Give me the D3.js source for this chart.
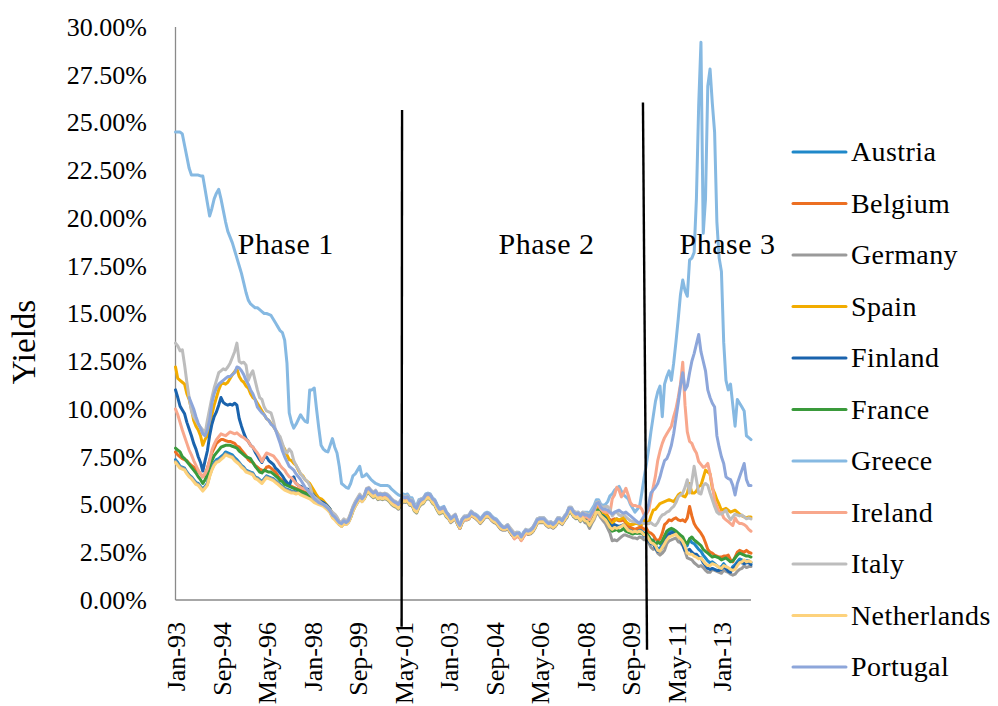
<!DOCTYPE html>
<html>
<head>
<meta charset="utf-8">
<script src="https://cdn.jsdelivr.net/npm/d3@7"></script>
<style>
  html, body { margin: 0; padding: 0; background: #ffffff; }
  svg { display: block; }
  text { font-family: "Liberation Serif", "DejaVu Serif", serif; fill: #000; }
</style>
</head>
<body>
<svg id="chart" width="998" height="706"></svg>
<script>
// ---------------- DATA (monthly yields, %, Jan-93 .. Feb-14) ----------------
const startMonth = new Date(1993, 0, 1);
const monthCount = 254;
const tickLabels = ["Jan-93","Sep-94","May-96","Jan-98","Sep-99","May-01","Jan-03","Sep-04","May-06","Jan-08","Sep-09","May-11","Jan-13"];
const yTickValues = [0, 2.5, 5, 7.5, 10, 12.5, 15, 17.5, 20, 22.5, 25, 27.5, 30];
const countries = ["Austria","Belgium","Germany","Spain","Finland","France","Greece","Ireland","Italy","Netherlands","Portugal"];
const colors = ["#1f88c9","#ec6f22","#9a9a9a","#f2ac00","#1a63ad","#3a9a3b","#86b9e2","#f8a78c","#bdbdbd","#fdd27c","#8da6da"];
const phaseLabels = ["Phase 1","Phase 2","Phase 3"];
const phaseLabelPos = [{m: 48.5, v: 18.1}, {m: 163.1, v: 18.1}, {m: 242.7, v: 18.1}];
const phaseLines = [{m1: 99.6, v1: 25.65, m2: 99.4, v2: -1.4}, {m1: 205.5, v1: 26.05, m2: 207.3, v2: -2.6}];

const austria = [
7.35,7.2,7.0,6.95,6.9,6.7,6.55,6.45,6.3,6.15,6.1,5.95,
5.8,5.95,6.1,6.6,6.95,7.2,7.35,7.4,7.5,7.6,7.75,7.7,
7.65,7.6,7.45,7.35,7.2,7.05,6.95,6.8,6.75,6.7,6.65,6.45,
6.4,6.3,6.2,6.35,6.5,6.45,6.4,6.35,6.25,6.15,6.05,5.95,
5.85,5.8,5.75,5.7,5.7,5.65,5.7,5.6,5.55,5.5,5.45,5.4,
5.3,5.2,5.15,5.1,5.05,5.0,4.9,4.8,4.65,4.45,4.35,4.2,
4.0,3.95,4.1,4.05,4.15,4.4,4.75,5.0,5.2,5.4,5.25,5.4,
5.7,5.75,5.6,5.5,5.6,5.4,5.45,5.4,5.45,5.4,5.3,5.15,
5.05,5.0,4.9,5.1,5.3,5.25,5.3,5.1,5.1,4.8,4.7,5.0,
5.15,5.2,5.4,5.45,5.4,5.2,5.1,4.85,4.65,4.7,4.75,4.5,
4.4,4.2,4.3,4.4,4.05,3.85,4.15,4.3,4.3,4.35,4.55,4.45,
4.35,4.25,4.1,4.25,4.4,4.45,4.4,4.25,4.15,4.1,3.95,3.8,
3.75,3.75,3.85,3.65,3.45,3.3,3.4,3.4,3.2,3.4,3.6,3.5,
3.55,3.65,3.85,4.1,4.15,4.15,4.15,4.0,3.9,3.95,3.85,3.95,
4.15,4.15,4.05,4.25,4.4,4.7,4.65,4.45,4.35,4.4,4.2,4.35,
4.25,4.2,4.0,4.25,4.45,4.75,4.8,4.55,4.45,4.4,4.3,4.2,
4.1,4.2,4.25,4.15,4.2,4.3,4.05,3.85,3.75,3.65,3.65,3.6,
3.75,3.6,3.5,3.5,3.2,3.1,3.15,2.85,2.7,2.7,2.95,3.3,
3.5,3.6,3.6,3.65,3.6,3.45,3.3,3.0,2.75,2.85,3.2,3.0,
2.95,2.8,2.65,2.55,2.35,2.2,2.05,1.95,2.0,1.9,1.8,1.7,
1.75,1.9,1.75,1.55,1.55,1.75,1.85,2.0,2.15,2.1,2.0,2.05,
2.05,1.95];

const belgium = [
7.75,7.6,7.5,7.4,7.35,7.3,7.15,7.05,6.95,6.85,6.75,6.6,
6.45,6.6,6.9,7.3,7.7,7.95,8.2,8.3,8.4,8.4,8.35,8.3,
8.3,8.25,8.2,8.05,8.0,7.85,7.7,7.55,7.35,7.25,7.2,7.05,
6.95,6.85,6.8,6.75,6.95,7.0,6.9,6.8,6.7,6.5,6.35,6.25,
6.15,6.05,6.0,5.95,5.9,5.85,5.8,5.75,5.7,5.65,5.6,5.5,
5.35,5.25,5.15,5.1,5.05,5.0,4.9,4.8,4.65,4.45,4.35,4.2,
4.0,4.0,4.15,4.05,4.15,4.45,4.8,5.05,5.25,5.45,5.3,5.45,
5.75,5.8,5.65,5.55,5.65,5.45,5.5,5.45,5.5,5.45,5.35,5.2,
5.1,5.05,4.95,5.15,5.35,5.3,5.35,5.15,5.15,4.85,4.75,5.05,
5.2,5.25,5.45,5.5,5.45,5.25,5.15,4.9,4.7,4.75,4.8,4.55,
4.45,4.25,4.35,4.45,4.1,3.9,4.2,4.35,4.35,4.4,4.6,4.5,
4.4,4.3,4.15,4.3,4.45,4.5,4.45,4.3,4.2,4.15,4.0,3.85,
3.8,3.8,3.9,3.7,3.5,3.35,3.45,3.45,3.25,3.45,3.65,3.55,
3.6,3.7,3.9,4.15,4.2,4.2,4.2,4.05,3.95,4.0,3.9,4.0,
4.2,4.2,4.1,4.3,4.45,4.75,4.7,4.5,4.4,4.45,4.3,4.45,
4.35,4.3,4.15,4.4,4.6,4.9,4.95,4.7,4.6,4.55,4.4,4.15,
4.2,4.25,4.2,4.15,4.15,4.2,4.0,3.85,3.8,3.75,3.7,3.75,
3.8,3.8,3.7,3.75,3.55,3.5,3.4,3.2,3.1,3.2,3.5,3.95,
4.05,4.2,4.15,4.25,4.3,4.2,4.15,4.2,4.1,4.3,4.9,4.4,
4.0,3.8,3.65,3.5,3.3,3.0,2.65,2.5,2.45,2.35,2.3,2.25,
2.25,2.3,2.3,2.35,2.1,2.0,2.25,2.5,2.6,2.55,2.5,2.6,
2.5,2.45];

const germany = [
7.25,7.1,6.95,6.9,6.85,6.65,6.5,6.4,6.25,6.1,6.05,5.9,
5.75,5.9,6.05,6.5,6.85,7.1,7.25,7.3,7.4,7.5,7.65,7.6,
7.55,7.5,7.35,7.25,7.15,7.0,6.9,6.75,6.7,6.65,6.6,6.4,
6.35,6.25,6.15,6.3,6.45,6.4,6.35,6.3,6.2,6.1,6.0,5.9,
5.8,5.75,5.7,5.65,5.65,5.6,5.65,5.55,5.5,5.45,5.4,5.35,
5.25,5.15,5.1,5.05,5.0,4.95,4.85,4.75,4.6,4.35,4.25,4.1,
3.95,3.85,4.0,3.95,4.05,4.3,4.65,4.9,5.1,5.3,5.15,5.3,
5.55,5.6,5.45,5.35,5.45,5.25,5.3,5.25,5.3,5.25,5.15,5.0,
4.9,4.85,4.75,4.95,5.15,5.1,5.15,4.95,4.95,4.65,4.55,4.85,
5.0,5.05,5.25,5.3,5.25,5.05,4.95,4.7,4.5,4.55,4.6,4.35,
4.25,4.05,4.15,4.25,3.95,3.75,4.05,4.2,4.2,4.25,4.45,4.35,
4.25,4.15,4.0,4.15,4.3,4.35,4.3,4.15,4.05,4.0,3.85,3.7,
3.65,3.65,3.75,3.55,3.4,3.25,3.35,3.35,3.15,3.35,3.5,3.45,
3.45,3.55,3.75,4.0,4.05,4.05,4.05,3.9,3.8,3.85,3.75,3.85,
4.05,4.05,3.95,4.15,4.3,4.6,4.55,4.35,4.25,4.3,4.1,4.25,
4.05,4.0,3.75,4.0,4.2,4.5,4.5,4.3,4.15,4.0,3.75,3.5,
3.1,3.15,3.1,3.2,3.3,3.4,3.4,3.35,3.3,3.25,3.25,3.2,
3.3,3.25,3.15,3.15,3.0,2.75,2.65,2.7,2.45,2.35,2.45,2.6,
2.95,3.1,3.15,3.2,3.25,3.05,3.0,2.85,2.55,2.2,2.15,2.1,
1.95,1.85,1.75,1.8,1.7,1.55,1.45,1.45,1.6,1.55,1.5,1.45,
1.4,1.55,1.5,1.45,1.35,1.3,1.35,1.5,1.6,1.65,1.8,1.7,
1.75,1.75];

const spain = [
12.2,11.6,11.5,11.4,11.3,10.8,10.5,10.0,9.4,9.1,8.9,8.6,
8.1,8.4,8.6,9.2,9.7,10.2,10.6,11.0,11.3,11.35,11.3,11.4,
11.6,11.8,11.95,12.1,11.7,11.5,11.4,11.2,11.1,10.8,10.6,10.5,
10.3,10.1,9.9,9.7,9.5,9.4,9.25,9.1,8.9,8.7,8.4,8.1,
7.9,7.6,7.35,7.3,7.15,7.05,6.8,6.6,6.5,6.3,6.2,6.1,
5.9,5.7,5.5,5.35,5.3,5.2,5.05,4.9,4.75,4.55,4.45,4.3,
4.1,4.05,4.2,4.1,4.2,4.5,4.85,5.1,5.3,5.5,5.3,5.45,
5.7,5.75,5.6,5.5,5.6,5.4,5.45,5.4,5.45,5.4,5.3,5.15,
5.05,5.0,4.9,5.1,5.3,5.25,5.3,5.1,5.1,4.8,4.7,5.0,
5.15,5.2,5.4,5.45,5.4,5.2,5.1,4.85,4.65,4.7,4.75,4.5,
4.4,4.15,4.25,4.35,4.05,3.8,4.1,4.25,4.25,4.3,4.5,4.4,
4.3,4.2,4.05,4.2,4.35,4.4,4.35,4.2,4.1,4.05,3.9,3.75,
3.7,3.7,3.8,3.6,3.4,3.25,3.35,3.35,3.15,3.35,3.55,3.45,
3.5,3.6,3.8,4.05,4.1,4.1,4.1,3.95,3.85,3.9,3.8,3.9,
4.1,4.1,4.0,4.2,4.4,4.7,4.65,4.45,4.35,4.4,4.2,4.35,
4.25,4.25,4.05,4.3,4.5,4.8,4.85,4.6,4.55,4.5,4.35,4.05,
4.0,4.15,4.25,4.2,4.25,4.35,4.1,4.0,3.95,3.95,4.0,4.0,
3.95,3.95,4.2,4.1,4.0,4.4,4.7,4.75,4.9,5.05,5.1,5.15,
5.2,5.25,5.2,5.15,5.3,5.5,5.6,5.45,5.4,5.6,6.1,5.6,
5.6,5.7,5.95,6.0,6.4,6.8,6.7,6.6,5.85,5.6,5.25,5.0,
4.7,4.75,4.8,4.7,4.6,4.65,4.7,4.6,4.5,4.4,4.35,4.3,
4.35,4.35];

const finland = [
11.0,10.6,10.15,9.95,9.75,9.3,8.95,8.6,8.2,7.9,7.5,7.2,
6.75,7.3,7.8,8.6,9.2,9.6,9.85,10.2,10.6,10.35,10.25,10.2,
10.25,10.2,10.3,10.2,9.5,9.1,8.75,8.45,8.3,8.1,8.0,7.75,
7.55,7.35,7.2,7.45,7.5,7.3,7.2,7.1,6.9,6.8,6.65,6.5,
6.3,6.15,6.0,6.3,6.45,6.1,6.0,5.95,5.9,5.85,5.8,5.75,
5.6,5.45,5.3,5.2,5.15,5.1,5.0,4.9,4.75,4.5,4.4,4.25,
4.05,4.0,4.15,4.05,4.15,4.45,4.8,5.05,5.25,5.45,5.25,5.4,
5.65,5.7,5.55,5.45,5.55,5.35,5.4,5.35,5.4,5.35,5.25,5.1,
5.0,4.95,4.85,5.05,5.25,5.2,5.25,5.05,5.05,4.75,4.65,4.95,
5.1,5.15,5.35,5.4,5.35,5.15,5.05,4.8,4.6,4.65,4.7,4.45,
4.35,4.15,4.25,4.35,4.0,3.8,4.1,4.25,4.25,4.3,4.5,4.4,
4.3,4.2,4.05,4.2,4.35,4.4,4.35,4.2,4.1,4.05,3.9,3.75,
3.7,3.7,3.8,3.6,3.4,3.25,3.35,3.35,3.15,3.35,3.55,3.45,
3.5,3.6,3.8,4.05,4.1,4.1,4.1,3.95,3.85,3.9,3.8,3.9,
4.1,4.1,4.0,4.2,4.35,4.65,4.6,4.4,4.3,4.35,4.15,4.3,
4.2,4.15,3.95,4.2,4.35,4.7,4.7,4.45,4.4,4.3,4.1,3.95,
3.85,3.95,3.9,3.85,3.9,3.95,3.8,3.65,3.6,3.55,3.55,3.5,
3.6,3.5,3.35,3.35,3.1,2.95,2.95,2.7,2.55,2.55,2.75,3.05,
3.3,3.45,3.5,3.55,3.5,3.35,3.2,2.9,2.6,2.6,2.65,2.5,
2.4,2.4,2.25,2.2,1.95,1.8,1.65,1.6,1.65,1.6,1.55,1.55,
1.6,1.75,1.65,1.5,1.45,1.65,1.75,1.9,2.0,1.95,1.9,1.95,
1.95,1.85];

const france = [
7.95,7.85,7.75,7.5,7.4,7.25,7.1,6.95,6.8,6.65,6.45,6.3,
6.1,6.3,6.55,7.0,7.3,7.55,7.7,7.85,8.0,8.05,8.1,8.1,
8.1,8.05,8.0,7.95,7.8,7.7,7.6,7.5,7.45,7.4,7.2,7.0,
6.85,6.7,6.65,6.8,6.75,6.7,6.7,6.6,6.5,6.4,6.25,6.2,
6.05,6.0,5.95,5.9,5.85,5.8,5.75,5.7,5.65,5.6,5.55,5.45,
5.3,5.2,5.1,5.05,5.05,4.95,4.85,4.75,4.6,4.4,4.3,4.15,
3.95,3.95,4.05,4.0,4.1,4.35,4.7,4.95,5.15,5.35,5.2,5.35,
5.6,5.65,5.5,5.4,5.5,5.3,5.35,5.3,5.35,5.3,5.2,5.05,
4.95,4.9,4.8,5.0,5.2,5.15,5.2,5.0,5.0,4.7,4.6,4.9,
5.05,5.1,5.3,5.35,5.3,5.1,5.0,4.75,4.55,4.6,4.65,4.4,
4.3,4.1,4.2,4.3,4.0,3.75,4.05,4.2,4.2,4.25,4.45,4.35,
4.3,4.2,4.05,4.2,4.35,4.4,4.35,4.2,4.1,4.05,3.9,3.75,
3.7,3.7,3.8,3.6,3.4,3.25,3.35,3.35,3.15,3.35,3.55,3.45,
3.5,3.6,3.8,4.05,4.1,4.1,4.1,3.95,3.85,3.9,3.8,3.9,
4.1,4.1,4.0,4.2,4.35,4.65,4.6,4.4,4.3,4.35,4.15,4.3,
4.15,4.1,3.9,4.15,4.35,4.7,4.7,4.45,4.35,4.25,4.05,3.8,
3.6,3.65,3.7,3.6,3.65,3.75,3.6,3.55,3.5,3.45,3.5,3.5,
3.5,3.5,3.45,3.5,3.35,3.15,3.1,2.85,3.05,2.95,3.1,3.35,
3.6,3.7,3.75,3.7,3.6,3.5,3.4,3.3,3.05,2.95,3.2,3.3,
3.15,3.05,2.95,2.85,2.65,2.55,2.45,2.35,2.25,2.3,2.25,2.2,
2.1,2.15,2.2,2.1,2.0,2.05,2.2,2.35,2.45,2.4,2.35,2.3,
2.3,2.25];

const greece = [
24.5,24.5,24.5,24.4,23.8,23.2,22.6,22.25,22.25,22.25,22.25,22.2,
22.2,21.5,20.8,20.1,20.5,21.0,21.3,21.5,21.0,20.4,19.8,19.3,
19.0,18.7,18.3,17.9,17.5,17.1,16.6,16.1,15.7,15.5,15.4,15.3,
15.3,15.2,15.1,15.0,15.0,14.95,14.9,14.7,14.5,14.3,14.1,14.0,
13.6,12.4,9.8,9.3,9.0,9.2,9.45,9.7,9.5,9.35,9.3,11.0,
11.0,11.1,10.0,9.0,8.1,7.9,7.8,7.75,8.1,8.45,8.0,7.7,
7.0,6.1,6.0,5.9,5.85,6.1,6.5,6.6,6.8,7.0,6.45,6.5,
6.6,6.45,6.3,6.2,6.1,6.05,6.0,6.0,6.0,6.0,5.95,5.8,
5.7,5.6,5.5,5.45,5.55,5.5,5.55,5.35,5.35,5.05,4.95,5.25,
5.3,5.35,5.55,5.6,5.55,5.35,5.25,5.0,4.8,4.85,4.9,4.65,
4.45,4.25,4.35,4.45,4.15,3.95,4.25,4.4,4.4,4.45,4.65,4.55,
4.5,4.4,4.25,4.4,4.55,4.6,4.55,4.4,4.3,4.25,4.1,3.95,
3.85,3.85,3.95,3.75,3.6,3.45,3.55,3.55,3.35,3.55,3.7,3.65,
3.7,3.8,4.0,4.25,4.3,4.3,4.3,4.15,4.05,4.1,4.0,4.1,
4.3,4.3,4.2,4.4,4.55,4.85,4.85,4.65,4.55,4.6,4.45,4.6,
4.6,4.6,4.55,4.75,4.95,5.25,5.25,5.0,4.95,5.0,5.15,5.45,
5.55,5.75,5.85,5.95,5.7,5.5,5.4,5.3,5.0,4.8,4.6,4.75,
4.9,5.6,6.4,7.1,7.9,8.8,9.6,10.4,10.9,11.2,9.6,11.3,
11.7,12.0,11.5,12.4,13.5,14.7,16.0,16.75,16.2,15.9,17.8,17.9,
18.2,21.0,25.9,29.2,19.2,21.0,26.9,27.8,26.0,24.5,19.8,17.9,
17.2,13.5,11.5,11.0,11.3,10.2,9.1,10.5,10.3,10.1,9.9,8.6,
8.5,8.4];

const ireland = [
10.0,9.7,9.3,8.9,8.55,8.2,7.85,7.6,7.3,7.05,6.8,6.6,
6.45,6.6,6.85,7.3,7.85,8.15,8.4,8.55,8.7,8.65,8.6,8.7,
8.8,8.75,8.7,8.75,8.65,8.55,8.5,8.4,8.3,8.1,8.0,7.85,
7.7,7.5,7.25,7.5,7.7,7.65,7.6,7.55,7.4,7.25,7.05,6.9,
6.8,6.6,6.45,6.4,6.25,6.1,6.0,5.9,5.85,5.8,5.75,5.6,
5.45,5.3,5.2,5.1,5.05,5.0,4.9,4.8,4.65,4.45,4.35,4.2,
4.0,3.95,4.1,4.0,4.1,4.4,4.8,5.05,5.25,5.45,5.25,5.4,
5.65,5.7,5.55,5.45,5.55,5.35,5.4,5.35,5.4,5.35,5.25,5.1,
5.0,4.95,4.85,5.05,5.25,5.2,5.25,5.05,5.05,4.75,4.65,4.95,
5.1,5.15,5.35,5.4,5.35,5.15,5.05,4.8,4.6,4.65,4.7,4.45,
4.3,4.1,4.2,4.3,4.0,3.75,4.05,4.2,4.2,4.25,4.45,4.35,
4.3,4.2,4.05,4.2,4.35,4.4,4.35,4.2,4.1,4.05,3.9,3.75,
3.7,3.7,3.8,3.6,3.4,3.2,3.3,3.3,3.1,3.3,3.5,3.45,
3.5,3.6,3.8,4.05,4.1,4.1,4.1,3.95,3.85,3.9,3.8,3.9,
4.1,4.1,4.0,4.2,4.4,4.7,4.65,4.45,4.4,4.45,4.3,4.45,
4.35,4.35,4.2,4.45,4.65,4.95,5.0,4.75,4.65,4.6,4.6,4.55,
5.3,5.5,5.9,5.75,5.4,5.6,5.85,5.5,5.1,4.95,4.95,4.9,
4.9,4.75,4.45,4.5,4.7,5.3,5.9,6.5,7.3,7.8,8.2,8.5,
8.7,8.9,9.1,9.6,10.0,10.6,11.3,12.45,10.2,8.8,8.3,8.2,
7.9,7.7,7.25,7.1,6.95,7.0,7.15,6.6,6.0,5.2,4.9,4.6,
4.6,4.3,4.2,4.1,4.0,3.9,4.3,4.1,4.0,4.0,3.95,3.85,
3.7,3.6];

const italy = [
13.45,13.3,13.05,13.1,12.3,11.4,10.6,9.9,9.6,9.4,9.2,9.05,
8.9,8.7,9.4,10.0,10.6,11.1,11.5,11.9,12.0,12.1,12.05,12.2,
12.4,12.7,13.0,13.45,12.5,12.4,12.45,12.3,11.5,11.8,12.0,11.5,
11.0,10.6,10.5,10.1,9.9,9.85,9.8,9.4,8.9,8.7,8.55,8.2,
7.8,7.7,7.9,7.75,7.3,7.05,6.85,6.6,6.45,6.3,6.2,6.0,
5.55,5.4,5.3,5.2,5.1,5.0,4.95,4.85,4.7,4.6,4.5,4.35,
4.1,4.1,4.25,4.15,4.25,4.55,4.9,5.15,5.35,5.55,5.35,5.5,
5.85,5.9,5.75,5.65,5.75,5.55,5.6,5.55,5.6,5.55,5.45,5.3,
5.2,5.15,5.05,5.25,5.45,5.4,5.45,5.25,5.25,4.95,4.85,5.15,
5.3,5.35,5.5,5.55,5.5,5.3,5.2,4.95,4.75,4.8,4.85,4.6,
4.5,4.3,4.4,4.5,4.15,3.95,4.25,4.4,4.4,4.45,4.65,4.55,
4.45,4.35,4.2,4.35,4.5,4.55,4.5,4.35,4.25,4.2,4.05,3.9,
3.85,3.85,3.95,3.8,3.65,3.5,3.55,3.5,3.3,3.5,3.7,3.6,
3.7,3.8,4.0,4.25,4.3,4.3,4.3,4.15,4.05,4.1,4.0,4.1,
4.3,4.3,4.2,4.4,4.55,4.85,4.85,4.65,4.6,4.6,4.5,4.6,
4.55,4.5,4.45,4.6,4.8,5.1,5.15,4.9,4.85,4.9,4.9,4.75,
4.4,4.55,4.6,4.45,4.4,4.5,4.35,4.25,4.15,4.1,4.1,4.05,
4.05,4.05,4.0,4.0,4.0,4.05,3.95,3.9,4.05,4.3,4.45,4.5,
4.6,4.65,4.8,4.9,5.1,5.4,5.5,5.6,5.9,6.3,5.6,6.2,
7.0,6.3,5.6,5.55,6.0,6.1,6.0,5.6,5.25,4.9,4.6,4.5,
4.5,4.6,4.7,4.4,4.2,4.35,4.5,4.45,4.4,4.45,4.35,4.25,
4.3,4.25];

const netherlands = [
7.2,7.05,6.9,6.85,6.8,6.6,6.45,6.35,6.2,6.05,6.0,5.85,
5.7,5.85,6.0,6.45,6.8,7.05,7.2,7.25,7.35,7.45,7.6,7.55,
7.5,7.45,7.3,7.2,7.1,6.95,6.85,6.7,6.65,6.6,6.55,6.35,
6.3,6.2,6.1,6.25,6.4,6.35,6.3,6.25,6.15,6.05,5.95,5.85,
5.75,5.7,5.65,5.6,5.6,5.55,5.6,5.5,5.45,5.4,5.35,5.3,
5.2,5.1,5.05,5.0,4.95,4.9,4.8,4.7,4.55,4.3,4.2,4.05,
3.95,3.85,4.0,3.95,4.05,4.3,4.65,4.9,5.1,5.3,5.15,5.3,
5.6,5.65,5.5,5.4,5.5,5.3,5.35,5.3,5.35,5.3,5.2,5.05,
4.95,4.9,4.8,5.0,5.2,5.15,5.2,5.0,5.0,4.7,4.6,4.9,
5.05,5.1,5.3,5.35,5.3,5.1,5.0,4.75,4.55,4.6,4.65,4.4,
4.3,4.1,4.2,4.3,4.0,3.8,4.1,4.25,4.25,4.3,4.5,4.4,
4.3,4.2,4.05,4.2,4.35,4.4,4.35,4.2,4.1,4.05,3.9,3.75,
3.7,3.7,3.8,3.6,3.45,3.3,3.4,3.4,3.2,3.4,3.55,3.5,
3.5,3.6,3.8,4.05,4.1,4.1,4.1,3.95,3.85,3.9,3.8,3.9,
4.1,4.1,4.0,4.2,4.35,4.65,4.6,4.4,4.3,4.35,4.15,4.3,
4.15,4.1,3.9,4.1,4.3,4.6,4.6,4.4,4.3,4.2,4.0,3.8,
3.7,3.8,3.75,3.8,3.85,3.95,3.8,3.65,3.6,3.55,3.6,3.55,
3.6,3.55,3.4,3.4,3.2,3.0,2.95,2.85,2.6,2.55,2.75,2.95,
3.15,3.3,3.35,3.4,3.45,3.3,3.2,3.05,2.8,2.45,2.4,2.4,
2.3,2.25,2.15,2.2,2.05,1.9,1.8,1.8,1.9,1.85,1.8,1.7,
1.65,1.8,1.75,1.7,1.6,1.55,1.6,1.8,1.95,2.0,2.1,2.0,
2.05,2.0];

const portugal = [
null,null,null,null,null,null,10.6,10.3,10.0,9.6,9.25,9.0,
8.7,8.6,8.9,9.4,10.3,10.8,11.1,11.3,11.4,11.5,11.6,11.7,
11.7,11.8,11.9,12.2,12.15,12.0,11.8,11.5,11.3,11.0,10.8,10.5,
10.1,9.95,9.8,9.7,9.5,9.4,9.2,9.1,8.9,8.55,8.2,7.8,
7.5,7.25,7.0,6.9,6.8,6.6,6.45,6.3,6.1,5.9,5.75,5.6,
5.5,5.3,5.2,5.1,5.05,5.0,4.9,4.8,4.65,4.45,4.35,4.2,
4.05,4.0,4.15,4.05,4.15,4.45,4.8,5.05,5.25,5.45,5.3,5.45,
5.8,5.85,5.7,5.6,5.7,5.5,5.55,5.5,5.55,5.5,5.4,5.25,
5.15,5.1,5.0,5.2,5.4,5.35,5.4,5.2,5.2,4.9,4.8,5.1,
5.25,5.3,5.5,5.55,5.5,5.3,5.2,4.95,4.75,4.8,4.85,4.6,
4.45,4.25,4.35,4.45,4.1,3.9,4.2,4.35,4.35,4.4,4.6,4.5,
4.45,4.35,4.2,4.35,4.5,4.55,4.5,4.35,4.25,4.2,4.05,3.9,
3.8,3.8,3.9,3.7,3.55,3.4,3.5,3.5,3.3,3.5,3.65,3.6,
3.65,3.75,3.95,4.2,4.25,4.25,4.25,4.1,4.0,4.05,3.95,4.05,
4.25,4.25,4.15,4.35,4.5,4.8,4.8,4.6,4.5,4.55,4.4,4.55,
4.45,4.45,4.35,4.55,4.75,5.05,5.1,4.85,4.75,4.75,4.7,4.6,
4.5,4.6,4.65,4.7,4.6,4.55,4.6,4.5,4.4,4.3,4.2,4.1,
4.0,4.2,4.4,4.6,5.0,5.6,5.75,5.9,6.1,6.45,6.9,7.3,
7.4,7.7,8.1,8.7,9.5,10.3,11.2,11.9,11.0,11.2,11.9,12.5,
12.9,13.4,13.9,13.0,12.5,12.0,11.0,10.6,10.3,10.1,8.6,8.0,
7.5,7.15,6.45,6.35,6.3,6.0,5.5,6.1,6.45,6.8,7.15,6.3,
6.0,6.0];

const seriesValues = [austria, belgium, germany, spain, finland, france, greece, ireland, italy, netherlands, portugal];

// ---------------- CHART ----------------
const svg = d3.select("#chart");
svg.append("rect").attr("width", 998).attr("height", 706).attr("fill", "#fff");

const plot = {left: 175.5, right: 751, top: 27, bottom: 600};

const categories = d3.range(monthCount).map(i => d3.timeMonth.offset(startMonth, i));
const fmt = d3.timeFormat("%b-%y");

const x = d3.scaleLinear().domain([0, monthCount - 1]).range([plot.left, plot.right]);
const y = d3.scaleLinear().domain([0, 30]).range([plot.bottom, plot.top]);

// y axis (no ticks, labels only)
const yAxis = d3.axisLeft(y).tickValues(yTickValues).tickSize(0).tickPadding(0)
  .tickFormat(d => d3.format(".2f")(d) + "%");
const gy = svg.append("g").attr("transform", `translate(${plot.left},0)`).call(yAxis);
gy.select(".domain").remove();
gy.selectAll("text").attr("x", -28.5).attr("dy", "0.32em")
  .style("font-size", "26px").style("font-family", "'Liberation Serif', serif").attr("fill", "#000");

// x axis labels every 20 months
const tickIdx = tickLabels.map(lbl => categories.findIndex(c => fmt(c) === lbl));
const xAxis = d3.axisBottom(x).tickValues(tickIdx).tickSize(0)
  .tickFormat(i => fmt(categories[i]));
const gx = svg.append("g").attr("transform", `translate(0,${plot.bottom})`).call(xAxis);
gx.select(".domain").remove();
gx.selectAll("text")
  .attr("transform", "rotate(-90)")
  .attr("x", -22).attr("y", 0).attr("dy", "0.35em")
  .attr("text-anchor", "end")
  .style("font-size", "26px").style("font-family", "'Liberation Serif', serif").attr("fill", "#000");

// axis lines
svg.append("line").attr("x1", plot.left).attr("x2", plot.left).attr("y1", plot.top).attr("y2", plot.bottom)
  .attr("stroke", "#8a8a8a").attr("stroke-width", 1.3);
svg.append("line").attr("x1", plot.left).attr("x2", plot.right).attr("y1", plot.bottom).attr("y2", plot.bottom)
  .attr("stroke", "#8a8a8a").attr("stroke-width", 1.3);

// lines
const line = d3.line().defined(d => d != null).x((d, i) => x(i)).y(d => y(d));
svg.append("g").selectAll("path").data(seriesValues).join("path")
  .attr("d", d => line(d))
  .attr("fill", "none")
  .attr("stroke", (d, i) => colors[i])
  .attr("stroke-width", 3)
  .attr("stroke-linejoin", "round")
  .attr("stroke-linecap", "round");

// phase divider lines
svg.append("g").selectAll("line").data(phaseLines).join("line")
  .attr("x1", d => x(d.m1)).attr("y1", d => y(d.v1))
  .attr("x2", d => x(d.m2)).attr("y2", d => y(d.v2))
  .attr("stroke", "#000").attr("stroke-width", 2.4);

// phase labels
svg.append("g").selectAll("text").data(phaseLabels).join("text")
  .attr("x", (d, i) => x(phaseLabelPos[i].m))
  .attr("y", (d, i) => y(phaseLabelPos[i].v))
  .attr("text-anchor", "middle")
  .style("font-size", "30px").style("letter-spacing", "0.5px")
  .text(d => d);

// y axis title
svg.append("text")
  .attr("transform", "translate(35,342) rotate(-90)")
  .attr("text-anchor", "middle")
  .style("font-size", "33px")
  .text("Yields");

// legend
const legend = svg.append("g");
const legY = d3.scaleLinear().domain([0, countries.length - 1]).range([152, 667]);
const items = legend.selectAll("g").data(countries).join("g")
  .attr("transform", (d, i) => `translate(0,${legY(i)})`);
items.append("line").attr("x1", 793).attr("x2", 846).attr("y1", 0).attr("y2", 0)
  .attr("stroke", (d, i) => colors[i]).attr("stroke-width", 3).attr("stroke-linecap", "round");
items.append("text").attr("x", 851).attr("y", 0).attr("dy", "0.33em")
  .style("font-size", "28px").style("letter-spacing", "0.4px")
  .text(d => d);
</script>
</body>
</html>
